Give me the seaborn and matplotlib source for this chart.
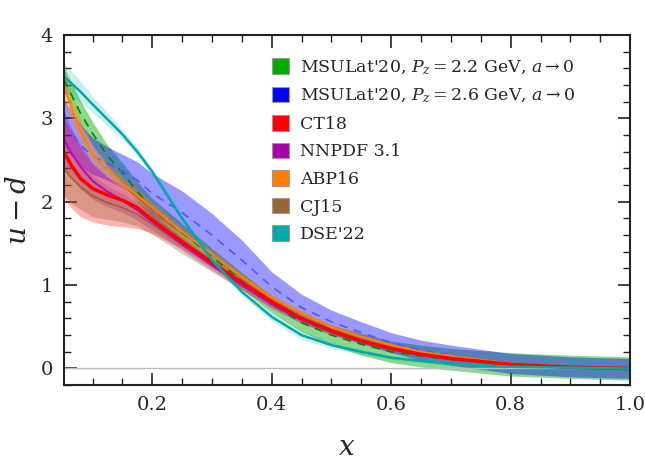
import matplotlib
matplotlib.use("Agg")
import matplotlib.pyplot as plt
import matplotlib.patches as mpatches
from matplotlib.ticker import MultipleLocator
import seaborn as sns
import numpy as np

x = [0.052, 0.065, 0.08, 0.1, 0.125, 0.15, 0.175, 0.2, 0.25, 0.3, 0.35,
     0.4, 0.45, 0.5, 0.55, 0.6, 0.65, 0.7, 0.8, 0.9, 1.0]

# MSULat'20, Pz = 2.2 GeV
msu22 = [3.47, 3.28, 3.06, 2.82, 2.55, 2.35, 2.12, 1.92, 1.63, 1.34, 1.05,
         0.77, 0.55, 0.40, 0.29, 0.20, 0.15, 0.11, 0.05, 0.02, 0.0]
msu22_err = [0.15, 0.15, 0.15, 0.14, 0.13, 0.12, 0.12, 0.12, 0.11, 0.1, 0.1,
             0.1, 0.11, 0.12, 0.13, 0.13, 0.13, 0.13, 0.14, 0.14, 0.14]
# MSULat'20, Pz = 2.6 GeV
msu26 = [2.95, 2.82, 2.68, 2.55, 2.46, 2.37, 2.26, 2.1, 1.87, 1.6, 1.3,
         0.98, 0.73, 0.56, 0.43, 0.31, 0.22, 0.16, 0.06, 0.02, 0.0]
msu26_err = [0.28, 0.27, 0.25, 0.22, 0.2, 0.2, 0.22, 0.24, 0.26, 0.26, 0.24,
             0.18, 0.16, 0.14, 0.13, 0.12, 0.12, 0.12, 0.12, 0.12, 0.12]
# CT18
ct18 = [2.6, 2.43, 2.28, 2.16, 2.08, 2.02, 1.93, 1.78, 1.52, 1.27, 1.03,
        0.8, 0.6, 0.45, 0.33, 0.24, 0.17, 0.12, 0.05, 0.015, 0.0]
ct18_lo = [2.05, 1.92, 1.82, 1.76, 1.72, 1.7, 1.68, 1.62, 1.44, 1.21, 0.98,
           0.76, 0.57, 0.42, 0.31, 0.22, 0.15, 0.105, 0.04, 0.005, -0.01]
ct18_hi = [3.0, 2.85, 2.65, 2.45, 2.3, 2.2, 2.08, 1.93, 1.6, 1.33, 1.08,
           0.84, 0.63, 0.48, 0.35, 0.26, 0.19, 0.135, 0.06, 0.025, 0.01]
# NNPDF 3.1
nnpdf = [2.75, 2.58, 2.42, 2.25, 2.12, 2.02, 1.9, 1.76, 1.49, 1.24, 1.0,
         0.77, 0.58, 0.44, 0.33, 0.24, 0.17, 0.12, 0.05, 0.01, 0.0]
nnpdf_err = [0.35, 0.3, 0.27, 0.22, 0.18, 0.15, 0.12, 0.1, 0.07, 0.06, 0.05,
             0.05, 0.04, 0.04, 0.03, 0.03, 0.02, 0.02, 0.02, 0.01, 0.01]
# ABP16
abp16 = [3.4, 3.12, 2.85, 2.57, 2.38, 2.22, 2.08, 1.93, 1.64, 1.37, 1.1,
         0.85, 0.66, 0.5, 0.38, 0.28, 0.2, 0.15, 0.06, 0.02, 0.0]
abp16_err = [0.2, 0.17, 0.14, 0.11, 0.09, 0.08, 0.07, 0.06, 0.05, 0.05, 0.04,
             0.04, 0.04, 0.03, 0.03, 0.03, 0.02, 0.02, 0.02, 0.01, 0.01]
# CJ15
cj15 = [2.4, 2.28, 2.18, 2.07, 1.99, 1.93, 1.85, 1.73, 1.48, 1.24, 1.0,
        0.78, 0.59, 0.45, 0.34, 0.25, 0.18, 0.12, 0.05, 0.01, 0.0]
cj15_err = [0.32, 0.3, 0.27, 0.25, 0.2, 0.17, 0.14, 0.12, 0.1, 0.08, 0.06,
            0.05, 0.04, 0.04, 0.03, 0.03, 0.02, 0.02, 0.02, 0.01, 0.01]
# DSE'22
dse = [3.5, 3.42, 3.32, 3.17, 2.99, 2.81, 2.6, 2.36, 1.8, 1.3, 0.92,
       0.62, 0.4, 0.28, 0.2, 0.13, 0.09, 0.055, 0.02, 0.01, 0.0]
dse_err = [0.17, 0.15, 0.13, 0.1, 0.08, 0.06, 0.05, 0.04, 0.03, 0.03, 0.04,
           0.05, 0.05, 0.04, 0.03, 0.02, 0.02, 0.02, 0.01, 0.01, 0.01]

labels = [r"MSULat'20, $P_z = 2.2$ GeV, $a \to 0$",
          r"MSULat'20, $P_z = 2.6$ GeV, $a \to 0$",
          "CT18", "NNPDF 3.1", "ABP16", "CJ15", "DSE'22"]
colors = ["#00aa00", "#0000ff", "#ff0000", "#aa00aa", "#ff8000", "#996633", "#00aaaa"]

sns.set_theme(style="ticks")
plt.rcParams["font.family"] = ["DejaVu Serif"]
plt.rcParams["mathtext.fontset"] = "dejavuserif"

fig = plt.figure(figsize=(6.45, 4.68), dpi=100)
ax = fig.add_axes([0.099, 0.177, 0.878, 0.748])

xa = np.array(x)
bands = [
    (np.array(msu22) - msu22_err, np.array(msu22) + msu22_err, colors[0], 0.45),
    (np.array(msu26) - msu26_err, np.array(msu26) + msu26_err, colors[1], 0.4),
    (np.array(ct18_lo), np.array(ct18_hi), colors[2], 0.3),
    (np.array(nnpdf) - nnpdf_err, np.array(nnpdf) + nnpdf_err, colors[3], 0.3),
    (np.array(abp16) - abp16_err, np.array(abp16) + abp16_err, colors[4], 0.35),
    (np.array(cj15) - cj15_err, np.array(cj15) + cj15_err, colors[5], 0.35),
    (np.array(dse) - dse_err, np.array(dse) + dse_err, colors[6], 0.2),
]
for lo, hi, c, a in bands:
    ax.fill_between(xa, lo, hi, color=c, alpha=a, lw=0)

ax.axhline(0, color="#bbbbbb", lw=1, zorder=1)

sns.lineplot(x=x, y=msu22, ax=ax, color="#008800", lw=1.2, linestyle=(0, (5, 4)))
sns.lineplot(x=x, y=msu26, ax=ax, color="#5555ff", lw=1.2, linestyle=(0, (5, 4)))
sns.lineplot(x=x, y=cj15, ax=ax, color=colors[5], lw=1.2)
sns.lineplot(x=x, y=abp16, ax=ax, color=colors[4], lw=1.5)
sns.lineplot(x=x, y=nnpdf, ax=ax, color="#cc00cc", lw=1.5)
sns.lineplot(x=x, y=ct18, ax=ax, color=colors[2], lw=2.5)
sns.lineplot(x=x, y=dse, ax=ax, color=colors[6], lw=1.8)

ax.set_xlim(0.052, 1.0)
ax.set_ylim(-0.2, 4.0)
ax.xaxis.set_major_locator(MultipleLocator(0.2))
ax.xaxis.set_minor_locator(MultipleLocator(0.05))
ax.yaxis.set_major_locator(MultipleLocator(1))
ax.yaxis.set_minor_locator(MultipleLocator(0.2))
ax.set_xticks([0.2, 0.4, 0.6, 0.8, 1.0])
ax.set_xticklabels(["0.2", "0.4", "0.6", "0.8", "1.0"])
ax.tick_params(which="both", direction="in", top=True, right=True, labelsize=14, color="#222222")
ax.tick_params(which="major", length=9, width=1.2, pad=8)
ax.tick_params(which="minor", length=5, width=1.0)
for s in ax.spines.values():
    s.set_linewidth(1.5)
    s.set_color("#222222")

ax.set_xlabel(r"$x$", fontsize=20, labelpad=14)
ax.set_ylabel(r"$u - d$", fontsize=20, labelpad=6)

handles = [mpatches.Patch(facecolor=c, edgecolor="#999999", lw=0.8) for c in colors]
ax.legend(handles, labels, loc="upper left", bbox_to_anchor=(0.34, 0.978), frameon=False,
          fontsize=12.5, handlelength=1.0, handleheight=1.0, handletextpad=0.6,
          labelspacing=0.57)

fig.savefig("out.png", dpi=100)
